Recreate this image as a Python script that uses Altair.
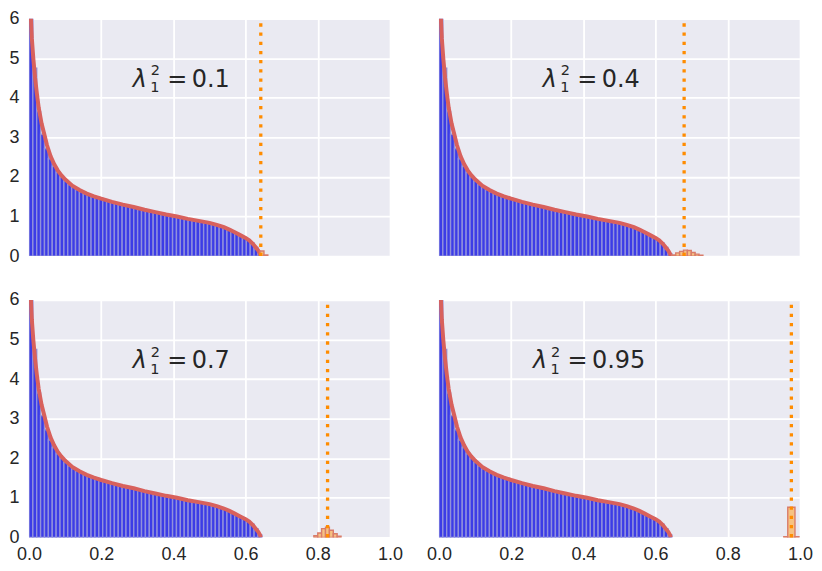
import altair as alt
import pandas as pd

# ---------------- data ----------------
BIN_W = 0.01075
# bulk histogram heights (bins start at 0, width BIN_W)
bulk_h = [6.00, 4.75, 3.65, 3.08, 2.72, 2.46, 2.27, 2.12, 2.00, 1.90,
          1.81, 1.74, 1.68, 1.63, 1.58, 1.55, 1.52, 1.49, 1.46, 1.43,
          1.40, 1.37, 1.35, 1.32, 1.30, 1.27, 1.25, 1.22, 1.20, 1.18,
          1.15, 1.13, 1.10, 1.08, 1.06, 1.04, 1.02, 1.00, 0.98, 0.96,
          0.94, 0.92, 0.90, 0.88, 0.86, 0.84, 0.82, 0.80, 0.78, 0.75,
          0.71, 0.67, 0.62, 0.57, 0.52, 0.47, 0.41, 0.33, 0.22, 0.06]

# theoretical density curve
curve_x = [0.0045, 0.0055, 0.008, 0.012, 0.017, 0.022, 0.027, 0.035, 0.042, 0.05,
           0.06, 0.07, 0.08, 0.09, 0.10, 0.12, 0.14, 0.16, 0.18, 0.20,
           0.23, 0.26, 0.29, 0.32, 0.35, 0.38, 0.41, 0.44, 0.47, 0.50,
           0.52, 0.54, 0.555, 0.57, 0.585, 0.60, 0.61, 0.62, 0.628, 0.635,
           0.64, 0.642]
curve_y = [6.6, 6.0, 5.5, 5.0, 4.5, 4.1, 3.75, 3.35, 3.1, 2.8,
           2.52, 2.32, 2.16, 2.04, 1.94, 1.78, 1.67, 1.58, 1.51, 1.45,
           1.37, 1.30, 1.24, 1.17, 1.11, 1.05, 1.00, 0.94, 0.89, 0.84,
           0.79, 0.73, 0.67, 0.60, 0.53, 0.46, 0.40, 0.31, 0.22, 0.14,
           0.06, 0.0]

labels = ["0.1", "0.4", "0.7", "0.95"]
label_x = [0.390, 0.390, 0.390, 0.363]   # position of the "=" sign
label_y = 4.28
spikes = [0.642, 0.679, 0.827, 0.976]

# outlier histograms: left edges, right edges, heights
out_lo = [
    [0.6400, 0.6508],
    [0.6450, 0.6558, 0.6665, 0.6773, 0.6880, 0.6988, 0.7095, 0.7203],
    [0.7890, 0.7998, 0.8105, 0.8213, 0.8320, 0.8428, 0.8535],
    [0.9550, 0.9660, 0.9860],
]
out_hi = [
    [0.6508, 0.6615],
    [0.6558, 0.6665, 0.6773, 0.6880, 0.6988, 0.7095, 0.7203, 0.7310],
    [0.7998, 0.8105, 0.8213, 0.8320, 0.8428, 0.8535, 0.8643],
    [0.9660, 0.9860, 0.9970],
]
out_h = [
    [0.13, 0.03],
    [0.03, 0.08, 0.12, 0.15, 0.14, 0.09, 0.05, 0.02],
    [0.04, 0.11, 0.22, 0.26, 0.18, 0.09, 0.03],
    [0.02, 0.76, 0.02],
]

x_ticks = [0.0, 0.2, 0.4, 0.6, 0.8, 1.0]
y_ticks = [0, 1, 2, 3, 4, 5, 6]

# ---------------- tables ----------------
bulk_df = pd.DataFrame({
    "lo": [i * BIN_W for i in range(len(bulk_h))],
    "hi": [(i + 1) * BIN_W for i in range(len(bulk_h))],
    "h": bulk_h,
    "base": [0.0] * len(bulk_h),
})
curve_df = pd.DataFrame({"x": curve_x, "y": curve_y})

TEXT = "#262626"
W, H = 362, 238


def panel(i, show_x, show_y):
    xs = alt.Scale(domain=[0, 1], nice=False, zero=False)
    ys = alt.Scale(domain=[0, 6], nice=False)
    xa = alt.Axis(values=x_ticks, format=".1f", labels=show_x, ticks=False,
                  domain=False, grid=True, gridColor="white", gridWidth=1.8,
                  labelFont="Liberation Sans", labelFontSize=18,
                  labelColor=TEXT, labelPadding=8, labelFlush=False, title=None)
    ya = alt.Axis(values=y_ticks, format="d", labels=show_y, ticks=False,
                  domain=False, grid=True, gridColor="white", gridWidth=1.8,
                  labelFont="Liberation Sans", labelFontSize=18,
                  labelColor=TEXT, labelPadding=10, title=None)

    def X(f):
        return alt.X(f, type="quantitative", scale=xs, axis=xa)

    def Y(f):
        return alt.Y(f, type="quantitative", scale=ys, axis=ya)

    bars = alt.Chart(bulk_df).mark_rect(
        fill="#3c3ce6", stroke="#9090dc", strokeWidth=1.4, clip=True
    ).encode(x=X("lo"), x2="hi", y=Y("h"), y2="base")

    line = alt.Chart(curve_df).mark_line(
        color="#d8615c", strokeWidth=4, clip=True
    ).encode(x=X("x"), y=Y("y"))

    odf = pd.DataFrame({"lo": out_lo[i], "hi": out_hi[i], "h": out_h[i],
                        "base": [0.0] * len(out_h[i])})
    obars = alt.Chart(odf).mark_rect(
        fill="#f6c282", stroke="#d97c6a", strokeWidth=1.4, clip=True
    ).encode(x=X("lo"), x2="hi", y=Y("h"), y2="base")

    sdf = pd.DataFrame({"s": [spikes[i]], "y0": [0.0], "y1": [6.0]})
    rule = alt.Chart(sdf).mark_rule(
        color="#ff8c00", strokeWidth=3.3, strokeDash=[3.3, 5.9]
    ).encode(x=X("s"), y=Y("y0"), y2="y1")

    tdf = pd.DataFrame({"x": [label_x[i]], "y": [label_y], "v": [labels[i]]})
    base_t = alt.Chart(tdf)
    common = dict(font="DejaVu Sans", color=TEXT, align="left", baseline="alphabetic")
    t_lam = base_t.mark_text(text="λ", fontSize=24, fontStyle="italic", dx=-37, dy=0,
                             **common).encode(x=X("x"), y=Y("y"))
    t_sup = base_t.mark_text(text="2", fontSize=14.5, dx=-19, dy=-11.5,
                             **common).encode(x=X("x"), y=Y("y"))
    t_sub = base_t.mark_text(text="1", fontSize=14.5, dx=-19.6, dy=5.5,
                             **common).encode(x=X("x"), y=Y("y"))
    t_eq = base_t.mark_text(text="=", fontSize=24, dx=-2.5, dy=0,
                            **common).encode(x=X("x"), y=Y("y"))
    t_val = base_t.mark_text(fontSize=24, dx=22.0, dy=0,
                             **common).encode(x=X("x"), y=Y("y"), text="v:N")

    return alt.layer(bars, line, obars, rule, t_lam, t_sup, t_sub, t_eq, t_val).properties(
        width=W, height=H)


tl = panel(0, False, True)
tr = panel(1, False, False)
bl = panel(2, True, True)
br = panel(3, True, False)

chart = alt.concat(
    tl, tr, bl, br, columns=2,
    spacing=alt.RowColnumber(row=44, column=49),
    bounds="flush",
).properties(
    padding={"left": 0, "top": 0, "right": 0, "bottom": 0},
    background="white",
).configure_view(
    fill="#EAEAF2", stroke="transparent"
)

chart.save("out.html", embed_options={"renderer": "svg", "actions": False})
